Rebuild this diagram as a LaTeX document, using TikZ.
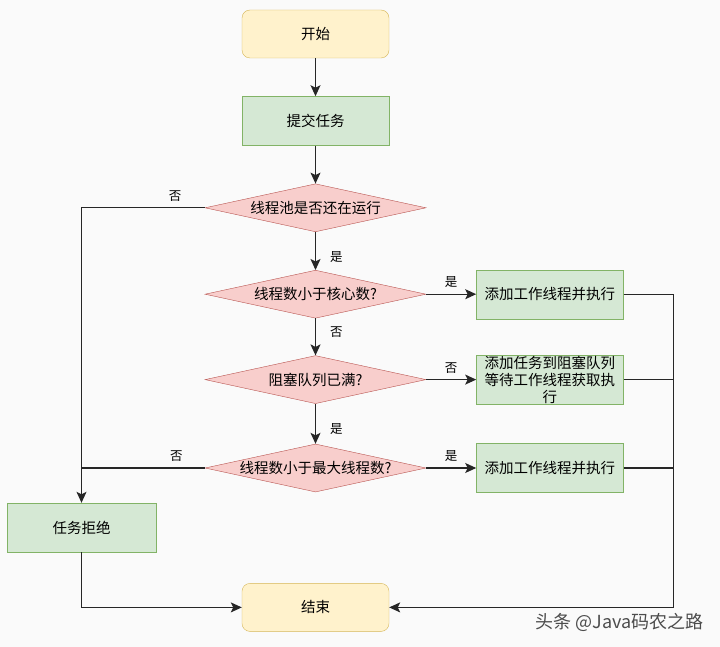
\documentclass[tikz,border=0pt]{standalone}
\usepackage{fontspec}
\setmainfont{Noto Sans CJK SC}
\usetikzlibrary{shapes.geometric,positioning,arrows.meta}

\definecolor{termfill}{HTML}{FFF2CC}
\definecolor{termline}{HTML}{D6B656}
\definecolor{workfill}{HTML}{D5E8D4}
\definecolor{workline}{HTML}{82B366}
\definecolor{testfill}{HTML}{F8CECC}
\definecolor{testline}{HTML}{B85450}

\tikzset{
  termbox/.style={draw=termline, fill=termfill, rounded corners=8pt, minimum width=147pt, minimum height=48pt},
  workbox/.style={draw=workline, fill=workfill, minimum width=147pt, minimum height=49pt, inner sep=1pt, align=center},
  testbox/.style={diamond, draw=testline, fill=testfill, minimum width=221pt, minimum height=48pt, inner sep=0pt, aspect=4.6},
  flow/.style={draw=black!85, line width=1.1pt},
  flowarr/.style={flow, -{Stealth[length=11pt,width=10pt,inset=2.5pt]}},
  ans/.style={font=\fontsize{12.5pt}{14pt}\selectfont, inner sep=0pt}
}

\begin{document}
\begin{tikzpicture}[x=1pt,y=-1pt,font=\fontsize{14.5pt}{17pt}\selectfont]
\fill[black!2] (0,0) rectangle (720,647);

\node[termbox] (start) at (315.5,34) {开始};
\node[workbox, below=38pt of start] (submit) {提交任务};
\node[testbox, below=38pt of submit] (running) {线程池是否还在运行};
\node[testbox, below=38pt of running] (core) {线程数小于核心数?};
\node[testbox, below=37pt of core] (full) {阻塞队列已满?};
\node[testbox, below=40pt of full] (maxd) {线程数小于最大线程数?};

\node[workbox, right=50pt of core] (addcore) {添加工作线程并执行};
\node[workbox, right=50pt of full, inner sep=0pt, font=\fontsize{14.5pt}{17pt}\selectfont] (addqueue) {添加任务到阻塞队列\\等待工作线程获取执\\行};
\node[workbox, right=50pt of maxd] (addmax) {添加工作线程并执行};

\node[workbox, minimum width=149pt] (reject) at (81.5,527.5) {任务拒绝};
\node[termbox, below=91pt of maxd] (end) {结束};
\coordinate[right=50pt of addcore] (join);

\draw[flowarr] (start) -- (submit);
\draw[flowarr] (submit) -- (running);
\draw[flowarr] (running) -- node[ans, pos=0.67, right=14pt] {是} (core);
\draw[flowarr] (core) -- node[ans, pos=0.37, right=14pt] {否} (full);
\draw[flowarr] (full) -- node[ans, pos=0.62, right=14pt] {是} (maxd);

\draw[flowarr] (core) -- node[ans, midway, above=6pt] {是} (addcore);
\draw[flowarr] (full) -- node[ans, midway, above=6pt] {否} (addqueue);
\draw[flowarr] (maxd) -- node[ans, midway, above=6pt] {是} (addmax);

\draw[flowarr] (running.west) -| node[ans, pos=0.12, above=6pt] {否} (reject.north);
\draw[flow] (maxd.west) -- node[ans, pos=0.23, above=6pt] {否} (maxd.west -| reject.north);
\draw[flowarr] (reject.south) |- (end.west);

\draw[flow] (addcore) -- (join);
\draw[flow] (addqueue) -- (addqueue -| join);
\draw[flow] (addmax) -- (addmax -| join);
\draw[flowarr] (join) |- (end.east);

\node[text=black!70, font=\fontsize{18pt}{20pt}\selectfont, inner sep=0pt, anchor=east] (mark) at (704,622) {头条 @Java码农之路};
\end{tikzpicture}
\end{document}
